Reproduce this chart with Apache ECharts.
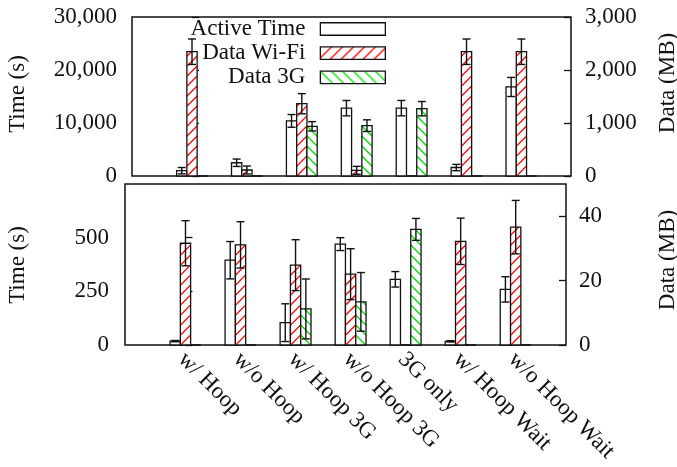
<!DOCTYPE html>
<html>
<head>
<meta charset="utf-8">
<script src="https://cdn.jsdelivr.net/npm/echarts@6/dist/echarts.min.js"></script>
<style>
html,body{margin:0;padding:0;background:#fff;}
#chart{width:677px;height:467px;}
</style>
</head>
<body>
<div id="chart"></div>
<script>
// ---------------- data ----------------
const categories = ['w/ Hoop', 'w/o Hoop', 'w/ Hoop 3G', 'w/o Hoop 3G', '3G only', 'w/ Hoop Wait', 'w/o Hoop Wait'];
const seriesNames = ['Active Time', 'Data Wi-Fi', 'Data 3G'];

// top panel: totals (Time in s, Data in MB)
const topActiveTime    = [1000, 2500, 10400, 12800, 12800, 1600, 16800];
const topActiveTimeErr = [600, 700, 1200, 1450, 1450, 600, 1800];
const topWifi          = [2345, 113, 1364, 107, 0, 2345, 2345];
const topWifiErr       = [240, 75, 190, 75, 0, 240, 240];
const top3G            = [0, 0, 938, 950, 1270, 0, 0];
const top3GErr         = [0, 0, 88, 110, 135, 0, 0];

// bottom panel: per unit (Time in s, Data in MB)
const botActiveTime    = [18, 395, 104, 470, 306, 17, 259];
const botActiveTimeErr = [3, 87, 88, 30, 36, 3, 59];
const botWifi          = [31.6, 31.1, 24.8, 22.0, 0, 32.2, 36.6];
const botWifiErr       = [7, 7.2, 7.9, 7.9, 0, 7.2, 8.3];
const bot3G            = [0, 0, 11.2, 13.4, 35.9, 0, 0];
const bot3GErr         = [0, 0, 9.3, 9.1, 3.4, 0, 0];

// ---------------- style ----------------
const FONT = 'Liberation Serif';
const FS = 23;
const BAR_W = 0.187;       // bar width in group units
const LABEL_SHIFT = -0.07; // x label anchor shift in group units
const HATCH_COLORS = [null, '#ff0000', '#00dd00'];
const HATCH_DIR = [0, 1, -1];
const HATCH_STEP = 10;

function hatchCanvas(color, dir) {
  const s = 11;
  const c = document.createElement('canvas');
  c.width = s; c.height = s;
  const g = c.getContext('2d');
  g.fillStyle = '#fff'; g.fillRect(0, 0, s, s);
  g.strokeStyle = color; g.lineWidth = 1.3;
  g.beginPath();
  if (dir > 0) {
    g.moveTo(-2, s + 2); g.lineTo(s + 2, -2);
    g.moveTo(-2, 2); g.lineTo(2, -2);
    g.moveTo(s - 2, s + 2); g.lineTo(s + 2, s - 2);
  } else {
    g.moveTo(-2, -2); g.lineTo(s + 2, s + 2);
    g.moveTo(s - 2, -2); g.lineTo(s + 2, 2);
    g.moveTo(-2, s - 2); g.lineTo(2, s + 2);
  }
  g.stroke();
  return c;
}
const legendFills = [
  '#ffffff',
  { image: hatchCanvas('#ff0000', 1), repeat: 'repeat' },
  { image: hatchCanvas('#00dd00', -1), repeat: 'repeat' }
];

function barSeries(idx, panel, vals, errs) {
  return {
    type: 'custom',
    name: seriesNames[idx],
    xAxisIndex: panel,
    yAxisIndex: panel * 2 + (idx === 0 ? 0 : 1),
    encode: { x: 0, y: 1 },
    data: vals.map((v, i) => [i, v, errs[i]]),
    renderItem: function (params, api) {
      const i = api.value(0), v = api.value(1), e = api.value(2);
      const unit = api.size([1, 0])[0];
      const w = BAR_W * unit;
      const p0 = api.coord([i, 0]);
      const p1 = api.coord([i, v]);
      const cx = p0[0] + (idx - 1) * w;
      const x0 = cx - w / 2, y0 = p1[1], h = p0[1] - p1[1];
      const children = [{
        type: 'rect',
        shape: { x: x0, y: y0, width: w, height: h },
        style: { fill: '#fff', stroke: null }
      }];
      if (HATCH_DIR[idx] !== 0 && h > 1) {
        const lines = [];
        const ls = { stroke: HATCH_COLORS[idx], lineWidth: 1.3 };
        if (HATCH_DIR[idx] > 0) {
          for (let c = y0 + h + w; c > y0 - 1; c -= HATCH_STEP) {
            lines.push({ type: 'line', shape: { x1: x0, y1: c, x2: x0 + w, y2: c - w }, style: ls });
          }
        } else {
          for (let c = y0 + h; c > y0 - w - 1; c -= HATCH_STEP) {
            lines.push({ type: 'line', shape: { x1: x0, y1: c, x2: x0 + w, y2: c + w }, style: ls });
          }
        }
        children.push({
          type: 'group',
          clipPath: { type: 'rect', shape: { x: x0, y: y0, width: w, height: h } },
          children: lines
        });
      }
      children.push({
        type: 'rect',
        shape: { x: x0, y: y0, width: w, height: h },
        style: { fill: null, stroke: '#111', lineWidth: 1.3 }
      });
      if (v > 0 && e > 0) {
        const hi = api.coord([i, v + e])[1];
        const lo = api.coord([i, Math.max(0, v - e)])[1];
        const cap = 4;
        const es = { stroke: '#111', lineWidth: 1.4 };
        children.push(
          { type: 'line', shape: { x1: cx, y1: hi, x2: cx, y2: lo }, style: es },
          { type: 'line', shape: { x1: cx - cap, y1: hi, x2: cx + cap, y2: hi }, style: es },
          { type: 'line', shape: { x1: cx - cap, y1: lo, x2: cx + cap, y2: lo }, style: es }
        );
      }
      return { type: 'group', children: children };
    }
  };
}

function yAxis(grid, pos, max, interval, margin, hideMax) {
  return {
    type: 'value', gridIndex: grid, position: pos,
    min: 0, max: max, interval: interval,
    axisLine: { show: false },
    axisTick: { show: true, inside: true, length: 7, lineStyle: { color: '#111', width: 1.3 } },
    splitLine: { show: false },
    axisLabel: { margin: margin, fontFamily: FONT, fontSize: FS, color: '#111', showMaxLabel: !hideMax }
  };
}

const textBase = { fontFamily: FONT, fontSize: FS, fill: '#111', align: 'center', verticalAlign: 'middle' };

const option = {
  animation: false,
  backgroundColor: '#fff',
  grid: [
    { left: 132, top: 17, width: 439, height: 159, show: true, borderColor: '#111', borderWidth: 1.5, backgroundColor: 'transparent' },
    { left: 125, top: 184, width: 441, height: 161, show: true, borderColor: '#111', borderWidth: 1.5, backgroundColor: 'transparent' }
  ],
  xAxis: [
    { type: 'value', gridIndex: 0, min: -1.093, max: 6.903, show: false },
    {
      type: 'value', gridIndex: 1, min: -1.099, max: 6.914,
      axisLine: { show: false }, axisTick: { show: false }, splitLine: { show: false },
      axisLabel: {
        customValues: categories.map((c, i) => i + LABEL_SHIFT),
        rotate: -45, margin: 11, fontFamily: FONT, fontSize: FS, color: '#111',
        formatter: function (v) { return categories[Math.round(v - LABEL_SHIFT)]; }
      }
    }
  ],
  yAxis: [
    yAxis(0, 'left', 30000, 10000, 15, false),
    yAxis(0, 'right', 3000, 1000, 14, false),
    yAxis(1, 'left', 750, 250, 16, true),
    yAxis(1, 'right', 50, 20, 13, true)
  ],
  legend: {
    orient: 'vertical', align: 'right',
    right: 291, top: 17.5, padding: 0, itemGap: 1.2,
    itemWidth: 65, itemHeight: 12.5, icon: 'rect',
    selectedMode: false,
    textStyle: { fontFamily: FONT, fontSize: FS, color: '#111', lineHeight: 23, padding: [0, 10, 0, 0] },
    data: seriesNames.map((n, i) => ({
      name: n,
      itemStyle: { color: legendFills[i], borderColor: '#111', borderWidth: 1.3 }
    }))
  },
  graphic: [
    { type: 'text', x: 17.5, y: 94, rotation: Math.PI / 2, style: Object.assign({ text: 'Time (s)' }, textBase) },
    { type: 'text', x: 17.5, y: 265, rotation: Math.PI / 2, style: Object.assign({ text: 'Time (s)' }, textBase) },
    { type: 'text', x: 668, y: 83, rotation: Math.PI / 2, style: Object.assign({ text: 'Data (MB)' }, textBase) },
    { type: 'text', x: 668, y: 260, rotation: Math.PI / 2, style: Object.assign({ text: 'Data (MB)' }, textBase) }
  ],
  series: [
    barSeries(0, 0, topActiveTime, topActiveTimeErr),
    barSeries(1, 0, topWifi, topWifiErr),
    barSeries(2, 0, top3G, top3GErr),
    barSeries(0, 1, botActiveTime, botActiveTimeErr),
    barSeries(1, 1, botWifi, botWifiErr),
    barSeries(2, 1, bot3G, bot3GErr)
  ]
};

const chart = echarts.init(document.getElementById('chart'), null, { renderer: 'canvas' });
chart.setOption(option);
</script>
</body>
</html>
